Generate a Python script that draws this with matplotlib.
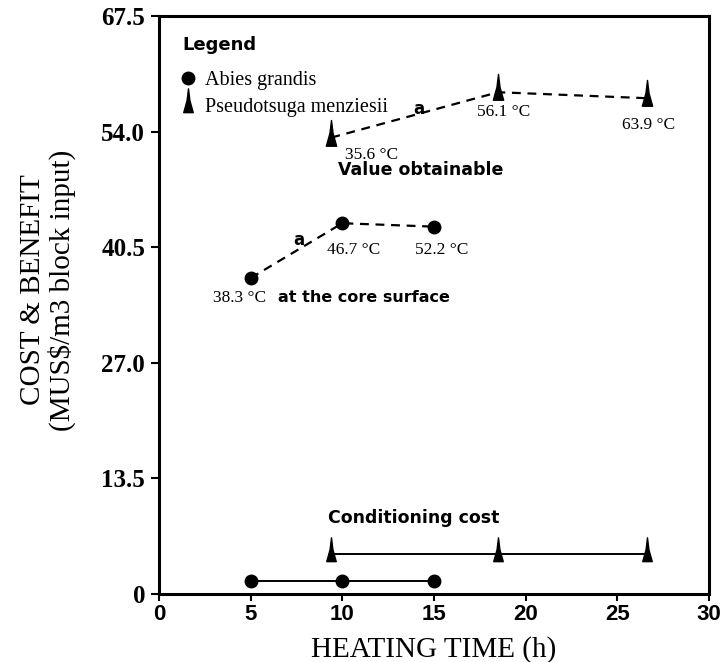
import numpy as np
import matplotlib.pyplot as plt
from matplotlib.path import Path
from matplotlib.lines import Line2D

# valores
abies_tempo = [5, 10, 15]
abies_valor = [36.9, 43.3, 42.9]
abies_custo = [1.5, 1.5, 1.5]
abies_temp = ["38.3 °C", "46.7 °C", "52.2 °C"]

pseudo_tempo = [9.4, 18.5, 26.6]
pseudo_valor = [53.3, 58.6, 57.9]
pseudo_custo = [4.7, 4.7, 4.7]
pseudo_temp = ["35.6 °C", "56.1 °C", "63.9 °C"]

xticks = [0, 5, 10, 15, 20, 25, 30]
yticks = [0, 13.5, 27.0, 40.5, 54.0, 67.5]
ytick_labels = ["0", "13.5", "27.0", "40.5", "54.0", "67.5"]

serif = "Liberation Serif"
sans = "DejaVu Sans"

# marcador em forma de ponta (triangulo estreito, base um pouco abaixo do ponto)
ponta = Path([(-0.2, -0.3), (-0.06, 0.2), (0.0, 0.7), (0.06, 0.2), (0.2, -0.3), (-0.2, -0.3)],
             [Path.MOVETO, Path.LINETO, Path.LINETO, Path.LINETO, Path.LINETO, Path.CLOSEPOLY])

fig = plt.figure(figsize=(7.26, 6.62), dpi=100)
ax = fig.add_axes([159/726, 1 - 594/662, 550/726, 578/662])

# valor obtido
ax.plot(abies_tempo, abies_valor, color="black", lw=1.6, ls=(0, (4, 3)),
        marker="o", ms=9)
ax.plot(pseudo_tempo, pseudo_valor, color="black", lw=1.6, ls=(0, (4, 3)),
        marker=ponta, ms=26)

# custo de condicionamento
ax.plot(abies_tempo, abies_custo, color="black", lw=1.4, marker="o", ms=9)
ax.plot(pseudo_tempo, pseudo_custo, color="black", lw=1.4, marker=ponta, ms=24)

# rotulos de temperatura
ax.text(2.95, 34.6, abies_temp[0], family=serif, fontsize=12.5, va="center")
ax.text(6.5, 34.6, "at the core surface", family=sans, weight="bold", fontsize=11.5, va="center")
ax.text(9.17, 40.2, abies_temp[1], family=serif, fontsize=12.5, va="center")
ax.text(13.97, 40.2, abies_temp[2], family=serif, fontsize=12.5, va="center")
ax.text(7.3, 41.3, "a", family=sans, weight="bold", fontsize=12, va="center")

ax.text(10.15, 51.3, pseudo_temp[0], family=serif, fontsize=12.5, va="center")
ax.text(17.35, 56.3, pseudo_temp[1], family=serif, fontsize=12.5, va="center")
ax.text(25.26, 54.8, pseudo_temp[2], family=serif, fontsize=12.5, va="center")
ax.text(13.86, 56.6, "a", family=sans, weight="bold", fontsize=12, va="center")

ax.text(9.77, 49.5, "Value obtainable", family=sans, weight="bold", fontsize=12.5, va="center")
ax.text(9.2, 8.9, "Conditioning cost", family=sans, weight="bold", fontsize=12.5, va="center")

# legenda
ax.text(1.25, 64.1, "Legend", family=sans, weight="bold", fontsize=13, va="center")
handles = [Line2D([], [], color="black", ls="none", marker="o", ms=9),
           Line2D([], [], color="black", ls="none", marker=ponta, ms=24)]
leg = ax.legend(handles, ["Abies grandis", "Pseudotsuga menziesii"],
                loc="upper left", bbox_to_anchor=(0.012, 0.93), frameon=False,
                prop={"family": serif, "size": 14.5},
                handlelength=0.8, handletextpad=0.45, labelspacing=0.4, borderpad=0.2)

# eixos
ax.set_xlim(0, 30)
ax.set_ylim(0, 67.5)
ax.set_xticks(xticks)
ax.set_xticklabels([str(t) for t in xticks], family="Liberation Sans", weight="bold", fontsize=16)
ax.set_yticks(yticks)
ax.set_yticklabels(ytick_labels, family=serif, weight="bold", fontsize=18)
ax.tick_params(axis="y", direction="out", length=6, width=1.5, pad=4)
ax.tick_params(axis="x", direction="out", length=5, width=1.5, pad=2)
for s in ax.spines.values():
    s.set_linewidth(2.2)

ax.set_xlabel("HEATING TIME (h)", family=serif, fontsize=21, labelpad=8)
fig.text(33/726, 1 - 290/662, "COST & BENEFIT", family=serif,
         fontsize=21, rotation=90, ha="center", va="center")
fig.text(62/726, 1 - 290/662, "(MUS$/m3 block input)", family=serif,
         fontsize=21, rotation=90, ha="center", va="center")

fig.savefig("out.png", dpi=100)
